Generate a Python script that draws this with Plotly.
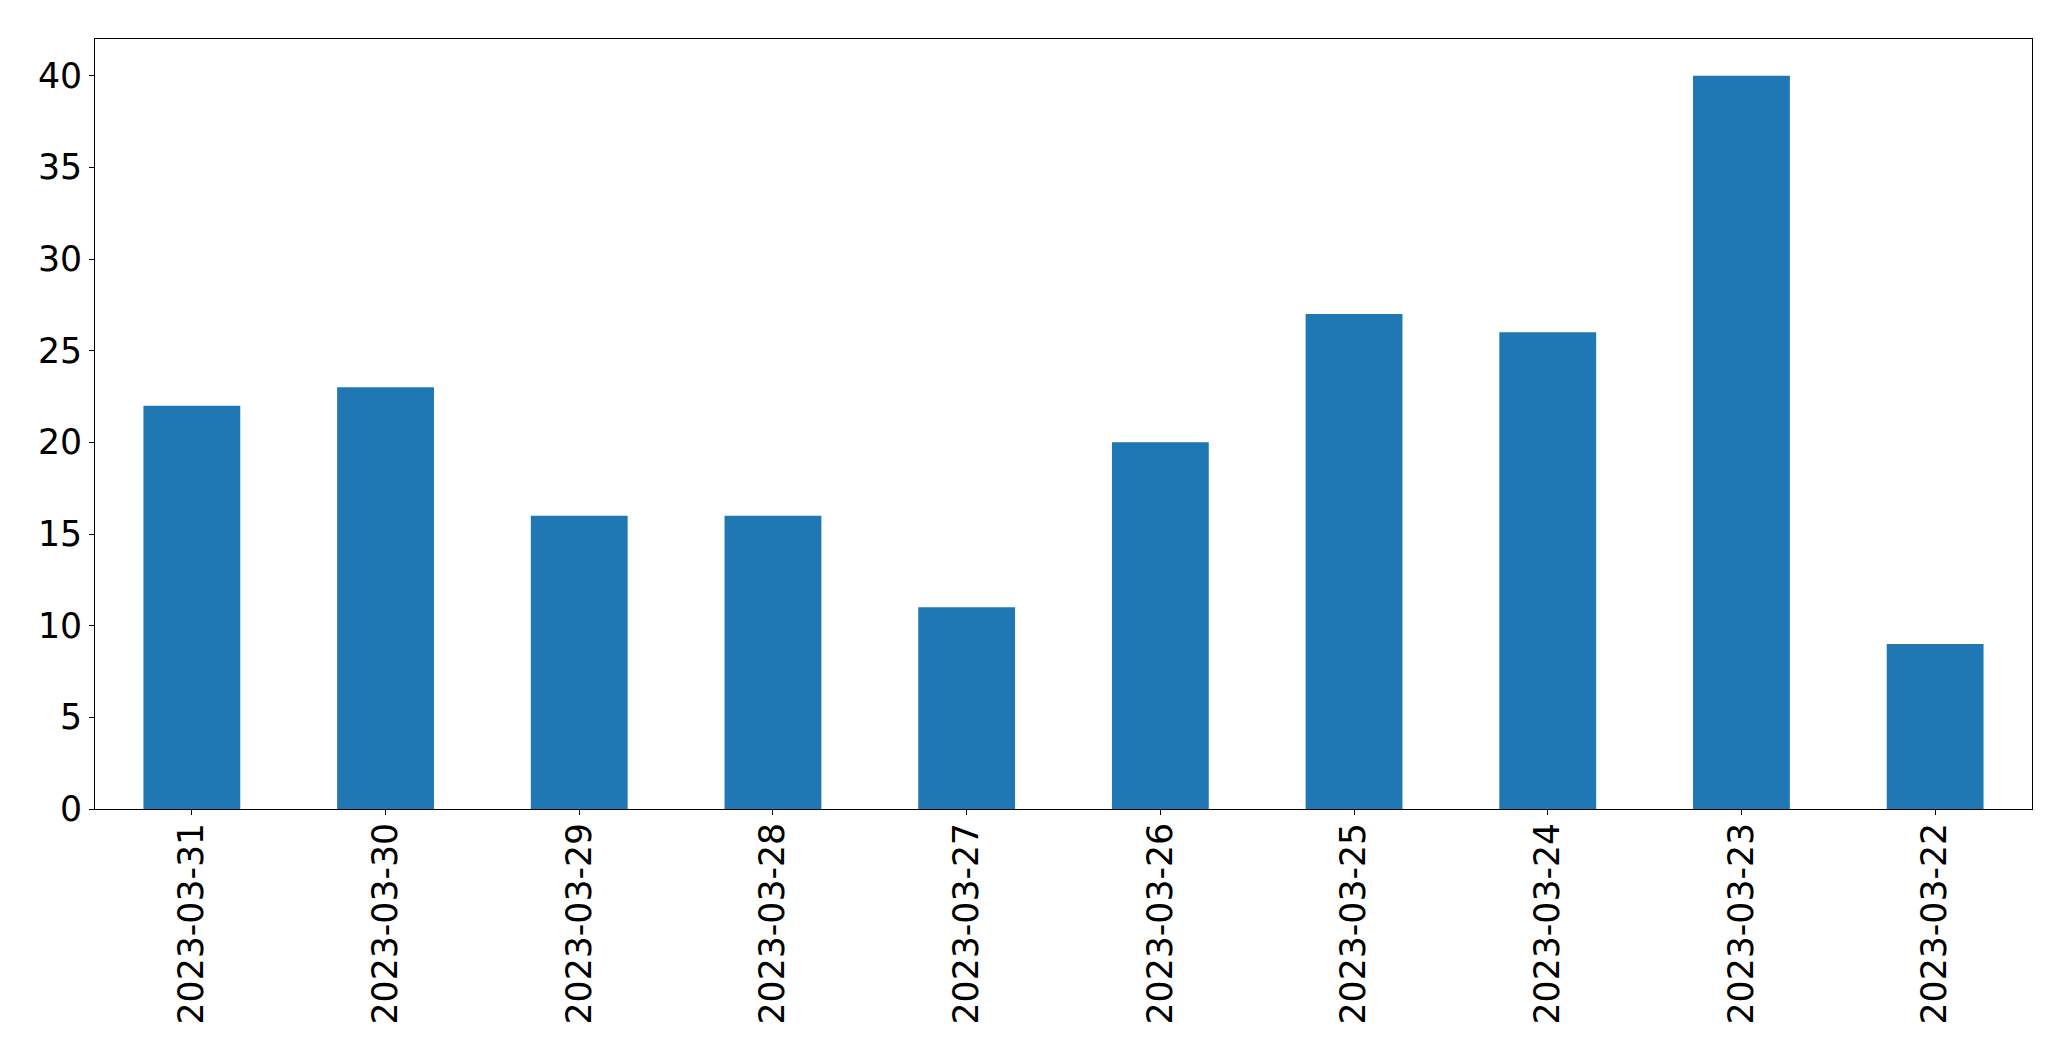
import plotly.graph_objects as go

dates = ["2023-03-31", "2023-03-30", "2023-03-29", "2023-03-28", "2023-03-27",
         "2023-03-26", "2023-03-25", "2023-03-24", "2023-03-23", "2023-03-22"]
counts = [22, 23, 16, 16, 11, 20, 27, 26, 40, 9]
y_ticks = [0, 5, 10, 15, 20, 25, 30, 35, 40]

fig = go.Figure(go.Bar(x=dates, y=counts, marker_color="#1f77b4",
                       marker_line_width=0, width=0.5))

axis_common = dict(showline=True, linecolor="black", linewidth=1, mirror=True,
                   ticks="outside", ticklen=5, tickwidth=1, tickcolor="black",
                   showgrid=False, zeroline=False,
                   tickfont=dict(family="DejaVu Sans", size=34.7, color="black"))

fig.update_layout(
    width=2071, height=1061,
    margin=dict(l=95, r=39, t=39, b=252),
    paper_bgcolor="white", plot_bgcolor="white",
    showlegend=False,
    bargap=0.5,
    xaxis=dict(type="category", range=[-0.5, 9.5], tickangle=-90,
               ticklabelstandoff=-6, **axis_common),
    yaxis=dict(range=[0, 42], tickvals=y_ticks, **axis_common),
)

fig.write_html("out.html")
